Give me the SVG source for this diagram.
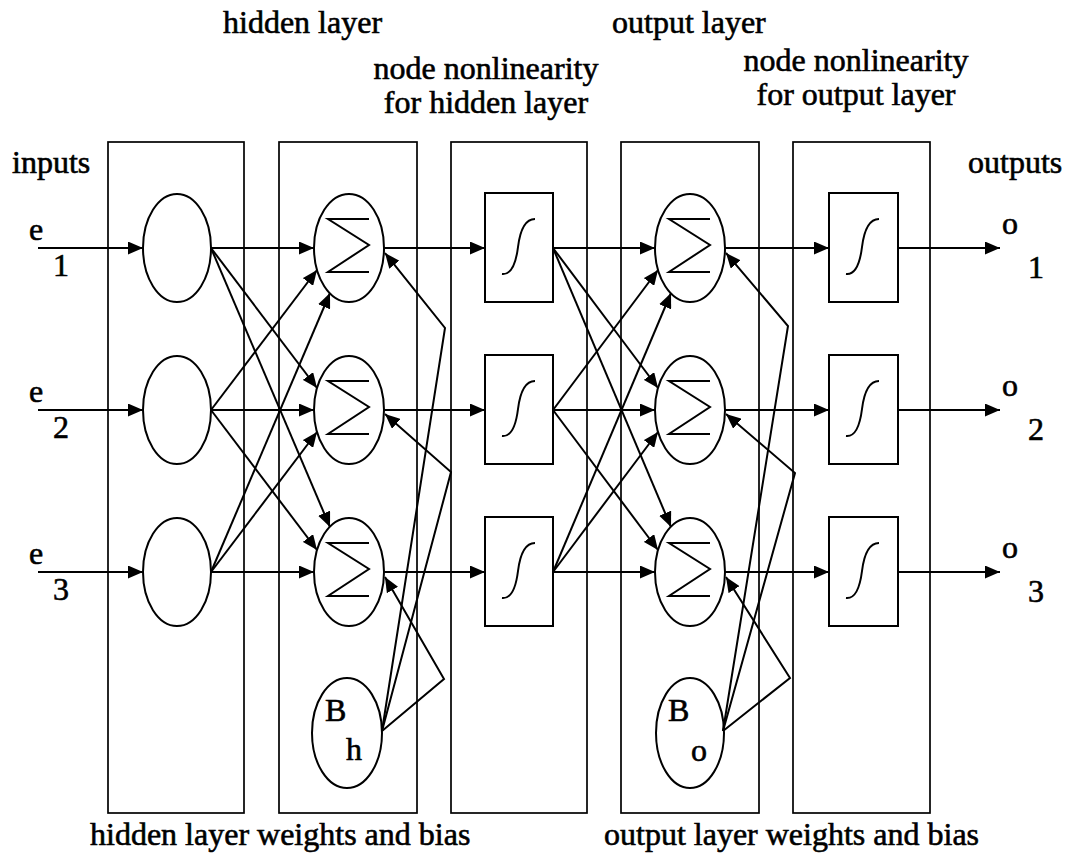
<svg xmlns="http://www.w3.org/2000/svg" xmlns:xlink="http://www.w3.org/1999/xlink" width="1077" height="863" viewBox="0 0 1077 863">
  <style>
    .layer { fill: none; stroke: #000; stroke-width: 1.7; }
    .node { fill: none; stroke: #000; stroke-width: 2; }
    .glyph { fill: none; stroke: #000; stroke-width: 2; stroke-linejoin: miter; }
    .wire { fill: none; stroke: #000; stroke-width: 2; marker-end: url(#arrow); }
    .lbl { font-family: "Liberation Serif", "Times New Roman", serif; font-size: 32px; fill: #000; stroke: #000; stroke-width: 0.6; }
    .mid { text-anchor: middle; }
  </style>
  <defs>
    <marker id="arrow" viewBox="0 0 15 13" refX="15" refY="6.5" markerWidth="15" markerHeight="13" markerUnits="userSpaceOnUse" orient="auto">
      <path d="M0,0 L15,6.5 L0,13 z" fill="#000"/>
    </marker>
    <!-- summation sign, centred on the node -->
    <path id="sigma" class="glyph" d="M20,-29 H-21 L20,-3 L-21,24 H20"/>
    <!-- sigmoid curve, centred on the box -->
    <path id="sigmoid" class="glyph" d="M-17,27 C-8,28 -3,16 -1,0 C1,-16 6,-28 16,-28"/>
  </defs>

  <rect width="1077" height="863" fill="#fff"/>

  <!-- layer frames -->
  <g id="frame-input"><rect class="layer" x="108" y="142" width="136" height="671"/></g>
  <g id="frame-hidden-weights"><rect class="layer" x="279" y="142" width="138" height="671"/></g>
  <g id="frame-hidden-nonlinearity"><rect class="layer" x="451" y="142" width="136" height="671"/></g>
  <g id="frame-output-weights"><rect class="layer" x="621" y="142" width="138" height="671"/></g>
  <g id="frame-output-nonlinearity"><rect class="layer" x="793" y="142" width="137" height="671"/></g>

  <!-- titles -->
  <g id="titles">
    <text class="lbl" x="223" y="33">hidden layer</text>
    <text class="lbl" x="612" y="33">output layer</text>
    <text class="lbl mid" x="486" y="79">node nonlinearity</text>
    <text class="lbl mid" x="486" y="113">for hidden layer</text>
    <text class="lbl mid" x="856" y="71">node nonlinearity</text>
    <text class="lbl mid" x="856" y="105">for output layer</text>
    <text class="lbl" x="12" y="173">inputs</text>
    <text class="lbl" x="968" y="173">outputs</text>
    <text class="lbl" x="90" y="845">hidden layer weights and bias</text>
    <text class="lbl" x="604" y="845">output layer weights and bias</text>
  </g>

  <!-- connectors -->
  <g id="connectors">
    <!-- inputs -->
    <path class="wire" d="M38,248 H143"/>
    <path class="wire" d="M38,410 H143"/>
    <path class="wire" d="M38,572 H143"/>
    <!-- input nodes to hidden sums -->
    <path class="wire" d="M211,248 H314"/>
    <path class="wire" d="M211,248 L317,388"/>
    <path class="wire" d="M211,248 L330,527"/>
    <path class="wire" d="M211,410 L317,270"/>
    <path class="wire" d="M211,410 H314"/>
    <path class="wire" d="M211,410 L317,550"/>
    <path class="wire" d="M211,572 L330,293"/>
    <path class="wire" d="M211,572 L317,432"/>
    <path class="wire" d="M211,572 H314"/>
    <!-- hidden sums to hidden nonlinearity -->
    <path class="wire" d="M384,248 H485"/>
    <path class="wire" d="M384,410 H485"/>
    <path class="wire" d="M384,572 H485"/>
    <!-- hidden bias -->
    <path class="wire" d="M382,731 L445,328 L385,253"/>
    <path class="wire" d="M382,731 L451,472 L385,414"/>
    <path class="wire" d="M382,731 L444,679 L385,577"/>
    <!-- hidden nonlinearity to output sums -->
    <path class="wire" d="M553,248 H655"/>
    <path class="wire" d="M553,248 L658,388"/>
    <path class="wire" d="M553,248 L671,527"/>
    <path class="wire" d="M553,410 L658,270"/>
    <path class="wire" d="M553,410 H655"/>
    <path class="wire" d="M553,410 L658,550"/>
    <path class="wire" d="M553,572 L671,293"/>
    <path class="wire" d="M553,572 L658,432"/>
    <path class="wire" d="M553,572 H655"/>
    <!-- output sums to output nonlinearity -->
    <path class="wire" d="M725,248 H829"/>
    <path class="wire" d="M725,410 H829"/>
    <path class="wire" d="M725,572 H829"/>
    <!-- output bias -->
    <path class="wire" d="M723,731 L788,326 L726,253"/>
    <path class="wire" d="M723,731 L795,473 L726,414"/>
    <path class="wire" d="M723,731 L790,678 L726,577"/>
    <!-- outputs -->
    <path class="wire" d="M898,248 H1000"/>
    <path class="wire" d="M898,410 H1000"/>
    <path class="wire" d="M898,572 H1000"/>
  </g>

  <!-- input labels -->
  <g id="input-e1"><text class="lbl" x="29" y="240">e</text><text class="lbl" x="53" y="276">1</text></g>
  <g id="input-e2"><text class="lbl" x="29" y="402">e</text><text class="lbl" x="53" y="438">2</text></g>
  <g id="input-e3"><text class="lbl" x="29" y="564">e</text><text class="lbl" x="53" y="600">3</text></g>

  <!-- input nodes -->
  <g id="in-1"><ellipse class="node" cx="177" cy="248" rx="34" ry="54"/></g>
  <g id="in-2"><ellipse class="node" cx="177" cy="410" rx="34" ry="54"/></g>
  <g id="in-3"><ellipse class="node" cx="177" cy="572" rx="34" ry="54"/></g>

  <!-- hidden summation nodes -->
  <g id="hsum-1"><ellipse class="node" cx="349" cy="248" rx="35" ry="54"/><use xlink:href="#sigma" x="349" y="248"/></g>
  <g id="hsum-2"><ellipse class="node" cx="349" cy="410" rx="35" ry="54"/><use xlink:href="#sigma" x="349" y="410"/></g>
  <g id="hsum-3"><ellipse class="node" cx="349" cy="572" rx="35" ry="54"/><use xlink:href="#sigma" x="349" y="572"/></g>
  <g id="hbias"><ellipse class="node" cx="347" cy="733" rx="35" ry="55"/><text class="lbl" x="325" y="721">B</text><text class="lbl" x="346" y="760">h</text></g>

  <!-- hidden nonlinearity boxes -->
  <g id="hact-1"><rect class="node" x="485" y="193" width="68" height="109"/><use xlink:href="#sigmoid" x="519" y="247"/></g>
  <g id="hact-2"><rect class="node" x="485" y="355" width="68" height="109"/><use xlink:href="#sigmoid" x="519" y="409"/></g>
  <g id="hact-3"><rect class="node" x="485" y="517" width="68" height="109"/><use xlink:href="#sigmoid" x="519" y="571"/></g>

  <!-- output summation nodes -->
  <g id="osum-1"><ellipse class="node" cx="690" cy="248" rx="35" ry="54"/><use xlink:href="#sigma" x="690" y="248"/></g>
  <g id="osum-2"><ellipse class="node" cx="690" cy="410" rx="35" ry="54"/><use xlink:href="#sigma" x="690" y="410"/></g>
  <g id="osum-3"><ellipse class="node" cx="690" cy="572" rx="35" ry="54"/><use xlink:href="#sigma" x="690" y="572"/></g>
  <g id="obias"><ellipse class="node" cx="690" cy="733" rx="34" ry="55"/><text class="lbl" x="668" y="721">B</text><text class="lbl" x="691" y="761">o</text></g>

  <!-- output nonlinearity boxes -->
  <g id="oact-1"><rect class="node" x="829" y="193" width="69" height="109"/><use xlink:href="#sigmoid" x="863" y="247"/></g>
  <g id="oact-2"><rect class="node" x="829" y="355" width="69" height="109"/><use xlink:href="#sigmoid" x="863" y="409"/></g>
  <g id="oact-3"><rect class="node" x="829" y="517" width="69" height="109"/><use xlink:href="#sigmoid" x="863" y="571"/></g>

  <!-- output labels -->
  <g id="output-o1"><text class="lbl" x="1002" y="234">o</text><text class="lbl" x="1028" y="278">1</text></g>
  <g id="output-o2"><text class="lbl" x="1002" y="396">o</text><text class="lbl" x="1028" y="440">2</text></g>
  <g id="output-o3"><text class="lbl" x="1002" y="558">o</text><text class="lbl" x="1028" y="602">3</text></g>
</svg>
